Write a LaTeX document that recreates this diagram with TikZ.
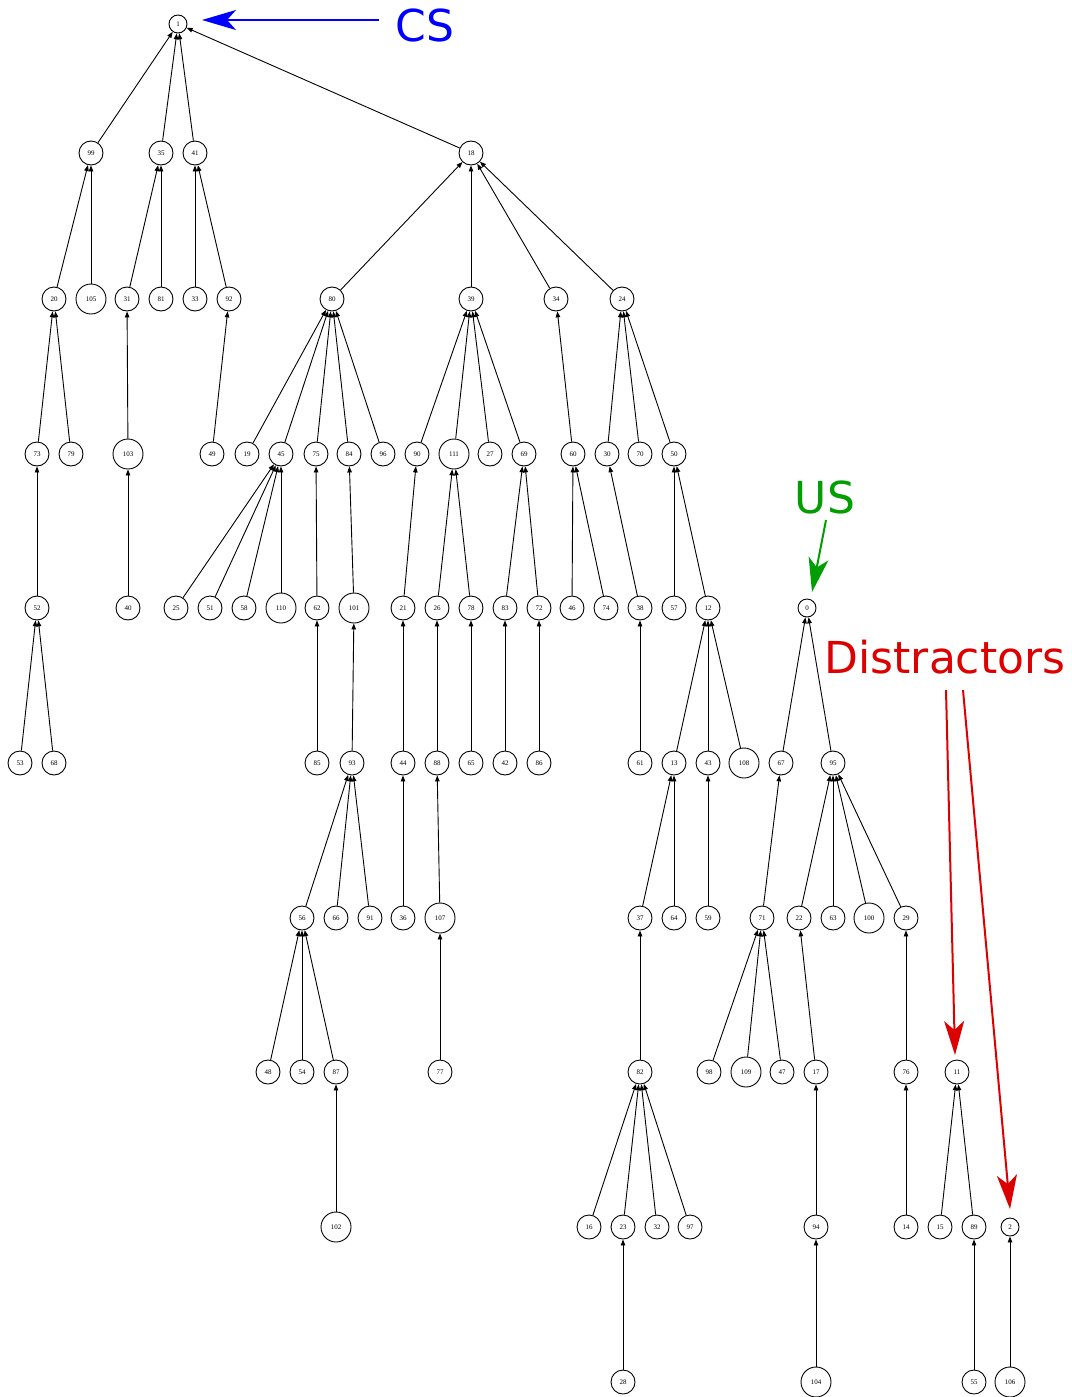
\documentclass[tikz,border=0pt]{standalone}
\usepackage{fontspec}
\setmainfont{Liberation Serif}
\newfontfamily\labelsans{DejaVu Sans}
\usetikzlibrary{arrows.meta}
\definecolor{csblue}{RGB}{0,0,255}
\definecolor{usgreen}{RGB}{0,158,0}
\definecolor{dred}{RGB}{221,0,0}
\tikzset{
  v/.style={circle,draw,line width=0.9pt,inner sep=0pt,minimum size=24pt,
            font=\fontsize{7}{8}\selectfont},
  vs/.style={v,minimum size=18pt},
  vw/.style={v,minimum size=30pt},
  edge/.style={line width=0.9pt,-{Triangle[length=6pt,width=4.5pt]}},
  big/.style={font=\labelsans\fontsize{44}{50}\selectfont,anchor=base,inner sep=0pt},
  callout/.style={line width=2pt,-{Stealth[length=34pt,width=20pt,inset=9pt]}}
}
\begin{document}
\begin{tikzpicture}[x=1pt,y=-1pt]
\useasboundingbox (0,0) rectangle (1071,1397);
% rank 0
\node[vs] (n1) at (178,24) {1};
% rank 1
\node[v] (n99) at (91,153) {99};
\node[v] (n35) at (161,153) {35};
\node[v] (n41) at (195,153) {41};
\node[v] (n18) at (471,153) {18};
% rank 2
\node[v] (n20) at (54,299) {20};
\node[vw] (n105) at (91,299) {105};
\node[v] (n31) at (127,299) {31};
\node[v] (n81) at (161,299) {81};
\node[v] (n33) at (195,299) {33};
\node[v] (n92) at (229,299) {92};
\node[v] (n80) at (332,299) {80};
\node[v] (n39) at (471,299) {39};
\node[v] (n34) at (556,299) {34};
\node[v] (n24) at (622,299) {24};
% rank 3
\node[v] (n73) at (37,454) {73};
\node[v] (n79) at (71,454) {79};
\node[vw] (n103) at (128,454) {103};
\node[v] (n49) at (212,454) {49};
\node[v] (n19) at (247,454) {19};
\node[v] (n45) at (281,454) {45};
\node[v] (n75) at (316,454) {75};
\node[v] (n84) at (349,454) {84};
\node[v] (n96) at (383,454) {96};
\node[v] (n90) at (417,454) {90};
\node[vw] (n111) at (454,454) {111};
\node[v] (n27) at (490,454) {27};
\node[v] (n69) at (524,454) {69};
\node[v] (n60) at (573,454) {60};
\node[v] (n30) at (607,454) {30};
\node[v] (n70) at (640,454) {70};
\node[v] (n50) at (674,454) {50};
% rank 4
\node[v] (n52) at (37,608) {52};
\node[v] (n40) at (128,608) {40};
\node[v] (n25) at (176,608) {25};
\node[v] (n51) at (210,608) {51};
\node[v] (n58) at (244,608) {58};
\node[vw] (n110) at (281,608) {110};
\node[v] (n62) at (317,608) {62};
\node[vw] (n101) at (354,608) {101};
\node[v] (n21) at (403,608) {21};
\node[v] (n26) at (437,608) {26};
\node[v] (n78) at (471,608) {78};
\node[v] (n83) at (505,608) {83};
\node[v] (n72) at (539,608) {72};
\node[v] (n46) at (572,608) {46};
\node[v] (n74) at (606,608) {74};
\node[v] (n38) at (640,608) {38};
\node[v] (n57) at (674,608) {57};
\node[v] (n12) at (708,608) {12};
\node[vs] (n0) at (807,608) {0};
% rank 5
\node[v] (n53) at (20,763) {53};
\node[v] (n68) at (54,763) {68};
\node[v] (n85) at (317,763) {85};
\node[v] (n93) at (352,763) {93};
\node[v] (n44) at (403,763) {44};
\node[v] (n88) at (437,763) {88};
\node[v] (n65) at (471,763) {65};
\node[v] (n42) at (505,763) {42};
\node[v] (n86) at (539,763) {86};
\node[v] (n61) at (640,763) {61};
\node[v] (n13) at (674,763) {13};
\node[v] (n43) at (708,763) {43};
\node[vw] (n108) at (744,763) {108};
\node[v] (n67) at (781,763) {67};
\node[v] (n95) at (833,763) {95};
% rank 6
\node[v] (n56) at (302,918) {56};
\node[v] (n66) at (336,918) {66};
\node[v] (n91) at (370,918) {91};
\node[v] (n36) at (403,918) {36};
\node[vw] (n107) at (440,918) {107};
\node[v] (n37) at (640,918) {37};
\node[v] (n64) at (674,918) {64};
\node[v] (n59) at (708,918) {59};
\node[v] (n71) at (762,918) {71};
\node[v] (n22) at (799,918) {22};
\node[v] (n63) at (833,918) {63};
\node[vw] (n100) at (869,918) {100};
\node[v] (n29) at (906,918) {29};
% rank 7
\node[v] (n48) at (268,1072) {48};
\node[v] (n54) at (302,1072) {54};
\node[v] (n87) at (336,1072) {87};
\node[v] (n77) at (440,1072) {77};
\node[v] (n82) at (640,1072) {82};
\node[v] (n98) at (709,1072) {98};
\node[vw] (n109) at (746,1072) {109};
\node[v] (n47) at (782,1072) {47};
\node[v] (n17) at (816,1072) {17};
\node[v] (n76) at (906,1072) {76};
\node[v] (n11) at (957,1072) {11};
% rank 8
\node[vw] (n102) at (336,1227) {102};
\node[v] (n16) at (589,1227) {16};
\node[v] (n23) at (623,1227) {23};
\node[v] (n32) at (657,1227) {32};
\node[v] (n97) at (690,1227) {97};
\node[v] (n94) at (816,1227) {94};
\node[v] (n14) at (906,1227) {14};
\node[v] (n15) at (940,1227) {15};
\node[v] (n89) at (974,1227) {89};
\node[vs] (n2) at (1010,1227) {2};
% rank 9
\node[v] (n28) at (623,1382) {28};
\node[vw] (n104) at (816,1382) {104};
\node[v] (n55) at (974,1382) {55};
\node[vw] (n106) at (1010,1382) {106};

% child -> parent links
\foreach \c/\p in {
  99/1,35/1,41/1,18/1,
  20/99,105/99,31/35,81/35,33/41,92/41,
  80/18,39/18,34/18,24/18,
  73/20,79/20,103/31,49/92,
  19/80,45/80,75/80,84/80,96/80,
  90/39,111/39,27/39,69/39,
  60/34,30/24,70/24,50/24,
  52/73,40/103,25/45,51/45,58/45,110/45,62/75,101/84,
  21/90,26/111,78/111,83/69,72/69,46/60,74/60,38/30,57/50,12/50,
  53/52,68/52,85/62,93/101,44/21,88/26,65/78,42/83,86/72,61/38,
  13/12,43/12,108/12,67/0,95/0,
  56/93,66/93,91/93,36/44,107/88,37/13,64/13,59/43,71/67,
  22/95,63/95,100/95,29/95,
  48/56,54/56,87/56,77/107,82/37,98/71,109/71,47/71,17/22,76/29,
  102/87,16/82,23/82,32/82,97/82,94/17,14/76,15/11,89/11,
  28/23,104/94,55/89,106/2}
  \draw[edge] (n\c) -- (n\p);

% annotations
\node[big,text=csblue] (cs) at (425,42) {CS};
\coordinate (csfrom) at (379,20);
\coordinate (csto) at (202,20);
\draw[callout,csblue] (csfrom) -- (csto);

\node[big,text=usgreen] (us) at (825,513) {US};
\coordinate (usfrom) at (826,520);
\coordinate (usto) at (812,592);
\draw[callout,usgreen] (usfrom) -- (usto);

\node[big,text=dred] (dis) at (945,673) {Distractors};
\coordinate (dfromA) at (946,690);
\coordinate (dfromB) at (963,690);
\coordinate (dtoA) at (955,1055);
\coordinate (dtoB) at (1010,1209);
\draw[callout,dred] (dfromA) -- (dtoA);
\draw[callout,dred] (dfromB) -- (dtoB);
\end{tikzpicture}
\end{document}
